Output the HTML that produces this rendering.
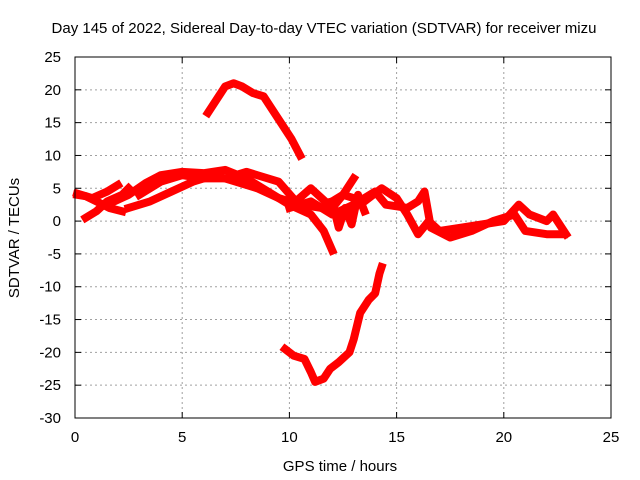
<!DOCTYPE html>
<html><head><meta charset="utf-8"><style>
body{margin:0;background:#fff}
svg{display:block;font-family:"Liberation Sans",sans-serif}
</style></head><body>
<svg id="chart" width="640" height="480" viewBox="0 0 640 480">
<text x="324" y="33" font-size="15" text-anchor="middle">Day 145 of 2022, Sidereal Day-to-day VTEC variation (SDTVAR) for receiver mizu</text>
<text x="340" y="471" font-size="15" text-anchor="middle">GPS time / hours</text>
<text transform="translate(19,238) rotate(-90)" font-size="15" text-anchor="middle">SDTVAR / TECUs</text>
<g id="grid"></g><g id="series"></g>
<rect x="75" y="57" width="536" height="361" fill="none" stroke="#000" stroke-width="1"/>
<g id="ticks"></g>
</svg>
<script>
const xTicks=[0,5,10,15,20,25];
const yTicks=[25,20,15,10,5,0,-5,-10,-15,-20,-25,-30];
const traceArc=[[6.2,16.5],[6.6,18.5],[7,20.5],[7.4,21],[7.8,20.5],[8.3,19.5],[8.8,19],[9.2,17],[9.7,14.5],[10.1,12.5],[10.5,10]];
const traceLow=[[9.8,-19.5],[10.2,-20.5],[10.7,-21],[11,-23],[11.2,-24.5],[11.6,-24],[11.9,-22.5],[12.3,-21.5],[12.8,-20],[13,-18],[13.3,-14],[13.7,-12],[14,-11],[14.2,-8],[14.3,-7]];
const trace1=[[0.1,4],[0.5,3.8],[1,3],[1.6,2],[2.2,1.5]];
const trace2=[[0.1,4.2],[0.8,3.5],[1.5,4.5],[2,5.5]];
const trace3=[[0.5,0.5],[1,1.5],[1.5,3],[2.2,4],[2.5,5]];
const trace4=[[1.5,2.5],[2.5,4],[3.3,5.8],[4,7],[5,7.5],[6,7.3],[7,7.8],[8,6.5],[9,4.5],[10,2.5],[11,1],[11.6,-1.5],[12,-4.5]];
const trace5=[[2.5,2],[3.5,3],[4.5,4.5],[5.5,6],[6.5,7],[7.5,6],[8.5,5],[9.5,3.5],[10.5,2.5],[11.5,2],[12.5,4],[13,6.5]];
const trace6=[[3,4],[4,6],[5,7],[6,6.5],[7,6.5],[8,7.5],[8.5,7],[9.5,6],[10.3,3],[11,5],[12,2],[12.5,4],[13.5,3],[14.3,5],[15,3.5],[15.5,1],[16,-2],[16.5,0],[17,-1.5],[18,-1],[19,-0.5],[20,0],[20.7,2.5],[21.2,1],[22,0],[22.3,1],[22.9,-2]];
const trace7=[[10,2],[11,3],[12,1],[13,2.5],[14,4.5],[14.5,2.5],[15.5,2],[16,3],[16.3,4.5],[16.6,-1],[17.5,-2.5],[18.5,-1.5],[19.5,0],[20.5,1],[21,-1.5],[22,-2],[22.8,-2]];
const trace8=[[12,3],[12.3,-1],[12.6,2],[12.9,-0.5],[13.2,4],[13.5,1.5]];
const traces=[traceArc,traceLow,trace1,trace2,trace3,trace4,trace5,trace6,trace7,trace8];
const X=v=>75+v*536/25, Y=v=>57+(25-v)*361/55;
const NS="http://www.w3.org/2000/svg";
const grid=document.getElementById('grid'),tk=document.getElementById('ticks'),ser=document.getElementById('series');
function mk(t,a,p){const e=document.createElementNS(NS,t);for(const k in a)e.setAttribute(k,a[k]);p.appendChild(e);return e;}
xTicks.forEach(v=>{const x=X(v);
 if(v>0&&v<25){const g=mk('line',{x1:x,x2:x,y1:57,y2:418,stroke:'#a0a0a0','stroke-dasharray':'2,3'},grid);
 
 }
 mk('line',{x1:x,x2:x,y1:418,y2:412,stroke:'#000'},tk);mk('line',{x1:x,x2:x,y1:57,y2:63,stroke:'#000'},tk);
 const t=mk('text',{x:x,y:442,'font-size':15,'text-anchor':'middle'},tk);t.textContent=v;
 
 });
yTicks.forEach(v=>{const y=Y(v);
 if(v<25&&v>-30){const g=mk('line',{x1:75,x2:611,y1:y,y2:y,stroke:'#a0a0a0','stroke-dasharray':'2,3'},grid);
 
 }
 mk('line',{x1:75,x2:81,y1:y,y2:y,stroke:'#000'},tk);mk('line',{x1:611,x2:605,y1:y,y2:y,stroke:'#000'},tk);
 const t=mk('text',{x:61,y:y+5,'font-size':15,'text-anchor':'end'},tk);t.textContent=v;
 
 });
traces.forEach(tr=>{const p=mk('polyline',{points:tr.map(d=>X(d[0])+','+Y(d[1])).join(' '),fill:'none',stroke:'#ff0000','stroke-width':8,'stroke-linejoin':'round','stroke-linecap':'square'},ser);
 
 });
</script>
</body></html>
